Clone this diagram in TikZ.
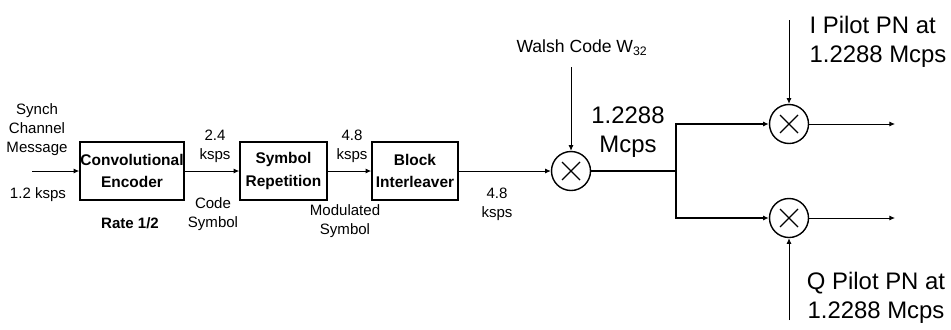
\documentclass[tikz,border=0pt]{standalone}
\usepackage{fontspec}
\setmainfont{Liberation Sans}
\usetikzlibrary{arrows.meta}

\begin{document}
\begin{tikzpicture}[
        x=0.025cm,y=-0.025cm,
        every node/.style={inner sep=0pt,align=center},
        block/.style={draw,line width=1.1pt,minimum height=1.45cm,font=\fontsize{11}{16}\selectfont\bfseries},
        mixer/.style={circle,draw,line width=1pt,minimum size=0.975cm,
            path picture={\draw[-,line width=0.8pt]
                ([shift={(-9,-9)}]path picture bounding box.center) -- ([shift={(9,9)}]path picture bounding box.center)
                ([shift={(-9,9)}]path picture bounding box.center) -- ([shift={(9,-9)}]path picture bounding box.center);}},
        small/.style={font=\fontsize{10.7}{13.5}\selectfont},
        big/.style={font=\fontsize{17}{21}\selectfont},
        -{Latex[length=4pt,width=3.5pt]},line width=0.6pt
    ]
        \useasboundingbox (0,0) rectangle (951,329);

        \coordinate (src) at (32,171);
        \node[block,minimum width=2.6cm] (conv) at (132,171) {Convolutional\\Encoder};
        \node[block,minimum width=2.175cm] (rep) at (283.5,171) {Symbol\\Repetition};
        \node[block,minimum width=2.15cm] (intl) at (415,171) {Block\\Interleaver};
        \node[mixer] (mixW) at (571,171) {};
        \coordinate (wtop) at (571,67);
        \coordinate (br) at (676,171);
        \node[mixer] (mixI) at (789,124) {};
        \node[mixer] (mixQ) at (789,218) {};
        \coordinate (itop) at (789,20);
        \coordinate (qbot) at (789,320);
        \coordinate (outI) at (895,124);
        \coordinate (outQ) at (895,218);

        \draw (src) -- (conv);
        \draw (conv) -- (rep);
        \draw (rep) -- (intl);
        \draw (intl) -- (mixW);
        \draw (wtop) -- (mixW);
        \draw[-,line width=0.9pt] (mixW) -- (br);
        \draw[line width=0.9pt] (br) |- (mixI);
        \draw[line width=0.9pt] (br) |- (mixQ);
        \draw (itop) -- (mixI);
        \draw (qbot) -- (mixQ);
        \draw (mixI) -- (outI);
        \draw (mixQ) -- (outQ);

        \node[small] (synch) at (37,130) {Synch\\Channel\\Message};
        \node[small] (rin) at (38,195) {1.2 ksps};
        \node[small,font=\fontsize{10.7}{13.5}\selectfont\bfseries] (rate) at (130,223) {Rate 1/2};
        \node[small] (r24) at (215,146.5) {2.4\\ksps};
        \node[small] (code) at (213,214) {Code\\Symbol};
        \node[small] (r48a) at (352,146) {4.8\\ksps};
        \node[small] (modsym) at (345,221) {Modulated\\Symbol};
        \node[small] (r48b) at (497,204) {4.8\\ksps};
        \node[font=\fontsize{12.5}{15}\selectfont] (walsh) at (582,48) {Walsh Code W\textsubscript{32}};
        \node[big] (chip) at (628,132) {1.2288\\Mcps};
        \node[big,align=left] (ipn) at (878,42) {I Pilot PN at\\1.2288 Mcps};
        \node[big] (qpn) at (876,298) {Q Pilot PN at\\1.2288 Mcps};
    \end{tikzpicture}
\end{document}
